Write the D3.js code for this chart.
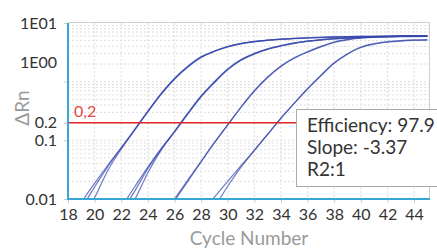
<!DOCTYPE html>
<html>
<head>
<meta charset="utf-8">
<script src="https://cdn.jsdelivr.net/npm/d3@7"></script>
<style>
  body { margin: 0; background: #fff; }
  svg { font-family: Lato, "Open Sans", sans-serif; }
</style>
</head>
<body>
<div id="chart"></div>
<script>
const width = 437;
const height = 248;
const margin = { top: 23, left: 68, right: 7, bottom: 49 };

// cycle numbers and the amplification curves (delta Rn per cycle)
const cycles = [18, 19, 20, 21, 22, 23, 24, 25, 26, 27, 28, 29, 30, 31, 32, 33, 34, 35, 36, 37, 38, 39, 40, 41, 42, 43, 44, 45];

const g1a = [0.0032, 0.0086, 0.0185, 0.038, 0.075, 0.150, 0.310, 0.62, 1.12, 1.80, 2.62, 3.30, 3.95, 4.45, 4.82, 5.10, 5.32, 5.48, 5.60, 5.70, 5.78, 5.85, 5.90, 5.94, 5.97, 6.00, 6.02, 6.04];
const g1b = [0.0020, 0.0066, 0.0160, 0.036, 0.074, 0.152, 0.315, 0.63, 1.14, 1.83, 2.65, 3.33, 3.98, 4.48, 4.85, 5.12, 5.33, 5.49, 5.61, 5.71, 5.79, 5.86, 5.91, 5.95, 5.98, 6.01, 6.03, 6.05];
const g1c = [0.0012, 0.0045, 0.0105, 0.031, 0.071, 0.148, 0.305, 0.61, 1.10, 1.78, 2.58, 3.26, 3.90, 4.40, 4.76, 5.04, 5.25, 5.40, 5.52, 5.62, 5.70, 5.76, 5.81, 5.85, 5.88, 5.90, 5.92, 5.94];

const g2a = [0.0004, 0.0008, 0.0016, 0.0034, 0.0072, 0.0160, 0.035, 0.072, 0.140, 0.285, 0.56, 0.98, 1.62, 2.35, 3.00, 3.60, 4.10, 4.55, 4.90, 5.18, 5.40, 5.56, 5.68, 5.77, 5.84, 5.89, 5.93, 5.96];
const g2b = [0.0003, 0.0006, 0.0012, 0.0025, 0.0058, 0.0135, 0.033, 0.071, 0.142, 0.290, 0.57, 1.00, 1.65, 2.38, 3.03, 3.63, 4.13, 4.58, 4.93, 5.21, 5.43, 5.59, 5.71, 5.80, 5.87, 5.92, 5.96, 5.99];
const g2c = [0.0002, 0.0004, 0.0008, 0.0018, 0.0042, 0.0096, 0.028, 0.068, 0.138, 0.280, 0.55, 0.96, 1.59, 2.31, 2.95, 3.55, 4.05, 4.50, 4.85, 5.12, 5.34, 5.50, 5.62, 5.71, 5.78, 5.83, 5.87, 5.90];

const g3a = [0.00002, 0.00004, 0.00008, 0.00015, 0.0003, 0.0006, 0.0024, 0.0049, 0.0100, 0.021, 0.044, 0.092, 0.185, 0.37, 0.70, 1.20, 1.85, 2.55, 3.25, 4.00, 4.75, 5.25, 5.60, 5.82, 5.95, 6.02, 6.06, 6.08];
const g3b = [0.00002, 0.00004, 0.00007, 0.00014, 0.0003, 0.0006, 0.0022, 0.0045, 0.0093, 0.020, 0.043, 0.090, 0.182, 0.365, 0.69, 1.18, 1.82, 2.50, 3.18, 3.92, 4.66, 5.16, 5.50, 5.72, 5.85, 5.92, 5.96, 5.98];

const g4a = [0.00001, 0.00002, 0.00004, 0.00008, 0.00016, 0.0003, 0.0006, 0.0012, 0.0016, 0.0031, 0.0058, 0.0108, 0.020, 0.037, 0.068, 0.127, 0.24, 0.43, 0.76, 1.28, 2.10, 3.00, 3.90, 4.45, 4.80, 5.02, 5.15, 5.22];
const g4b = [0.00001, 0.00002, 0.00003, 0.00006, 0.00012, 0.00024, 0.0005, 0.0008, 0.0012, 0.0018, 0.0032, 0.0072, 0.0165, 0.035, 0.067, 0.126, 0.238, 0.425, 0.75, 1.26, 2.06, 2.94, 3.82, 4.36, 4.70, 4.92, 5.05, 5.12];

const curves = [g1a, g1b, g1c, g2a, g2b, g2c, g3a, g3b, g4a, g4b];

const xTicks = [18, 20, 22, 24, 26, 28, 30, 32, 34, 36, 38, 40, 42, 44];
const yTicks = [0.01, 0.1, 0.2, 1, 10];
const yTickLabels = ["0.01", "0.1", "0.2", "1E00", "1E01"];
const threshold = 0.2;
const thresholdLabel = "0,2";
const stats = ["Efficiency: 97.9", "Slope: -3.37", "R2:1"];

const svg = d3.select("#chart").append("svg")
  .attr("width", width)
  .attr("height", height);

const x = d3.scaleLinear()
  .domain([18, 45.2])
  .range([margin.left, width - margin.right]);

const y = d3.scaleLog()
  .domain([0.01, 10])
  .range([height - margin.bottom, margin.top]);

//grid
const gGrid = svg.append("g")
  .attr("stroke", "#dedede")
  .attr("stroke-width", 1)
  .attr("stroke-dasharray", "2,2");

gGrid.selectAll(".vgrid")
  .data(xTicks.slice(1))
  .enter().append("line")
  .attr("class", "vgrid")
  .attr("x1", d => x(d)).attr("x2", d => x(d))
  .attr("y1", y(10)).attr("y2", y(0.01));

gGrid.selectAll(".hgrid")
  .data(y.ticks().filter(d => d > 0.01 && d < 10))
  .enter().append("line")
  .attr("class", "hgrid")
  .attr("x1", x(18)).attr("x2", x(45.2))
  .attr("y1", d => y(d)).attr("y2", d => y(d));

// frame (top & right)
svg.append("path")
  .attr("fill", "none")
  .attr("stroke", "#cfcfcf")
  .attr("d", `M${x(18)},${y(10) - 0.5}H${x(45.2) - 0.5}V${y(0.01)}`);

// curves
const clip = svg.append("clipPath").attr("id", "plot-clip")
  .append("rect")
  .attr("x", x(18)).attr("y", y(10))
  .attr("width", x(45.2) - x(18)).attr("height", y(0.01) - y(10));

const line = d3.line()
  .x((d, i) => x(cycles[i]))
  .y(d => y(d))
  .curve(d3.curveMonotoneX);

svg.append("g")
  .attr("clip-path", "url(#plot-clip)")
  .selectAll("path")
  .data(curves)
  .enter().append("path")
  .attr("fill", "none")
  .attr("stroke", "#3446ad")
  .attr("stroke-opacity", 0.72)
  .attr("stroke-width", 1.2)
  .attr("d", line);

// threshold
svg.append("line")
  .attr("x1", x(18)).attr("x2", x(45.2))
  .attr("y1", y(threshold)).attr("y2", y(threshold))
  .attr("stroke", "#e32222")
  .attr("stroke-width", 1.5);

svg.append("text")
  .attr("x", x(18) + 6)
  .attr("y", y(threshold) - 6)
  .attr("fill", "#e5473f")
  .style("font-size", "16px")
  .text(thresholdLabel);

// axes
const xAxis = svg.append("g")
  .attr("transform", `translate(0,${y(0.01)})`)
  .call(d3.axisBottom(x).tickValues(xTicks).tickSize(4).tickPadding(6));

const yAxis = svg.append("g")
  .attr("transform", `translate(${x(18)},0)`)
  .call(d3.axisLeft(y).tickValues(yTicks).tickSize(4).tickPadding(7)
    .tickFormat((d, i) => yTickLabels[i]));

[xAxis, yAxis].forEach(a => {
  a.select(".domain").remove();
  a.selectAll(".tick line").attr("stroke", "#cccccc");
  a.selectAll(".tick text")
    .attr("fill", "#333")
    .style("font-size", "16px")
    .style("font-family", "Lato, sans-serif");
});

// the 1E00 label sits higher than its tick in the original
yAxis.selectAll(".tick text").filter(d => d === 1).attr("dy", "-0.9em");

svg.append("line")
  .attr("x1", x(18)).attr("x2", x(18))
  .attr("y1", y(10)).attr("y2", y(0.01) + 1)
  .attr("stroke", "#35a8d6").attr("stroke-width", 2);

svg.append("line")
  .attr("x1", x(18) - 1).attr("x2", x(45.2))
  .attr("y1", y(0.01)).attr("y2", y(0.01))
  .attr("stroke", "#35a8d6").attr("stroke-width", 2);

// axis titles
svg.append("text")
  .attr("x", (x(18) + x(45.2)) / 2)
  .attr("y", 245)
  .attr("text-anchor", "middle")
  .attr("fill", "#9a9a9a")
  .style("font-size", "19px")
  .text("Cycle Number");

svg.append("text")
  .attr("transform", "translate(29,108) rotate(-90)")
  .attr("text-anchor", "middle")
  .attr("fill", "#9a9a9a")
  .style("font-size", "19px")
  .text("ΔRn");

// stats box
const box = svg.append("g").attr("transform", "translate(296,109)");
box.append("rect")
  .attr("x", 0.5).attr("y", 0.5)
  .attr("width", 160).attr("height", 77)
  .attr("fill", "#fff")
  .attr("stroke", "#aaaaaa");

box.selectAll("text")
  .data(stats)
  .enter().append("text")
  .attr("x", 11)
  .attr("y", (d, i) => 23 + i * 22)
  .attr("fill", "#333")
  .style("font-size", "19px")
  .text(d => d);
</script>
</body>
</html>
